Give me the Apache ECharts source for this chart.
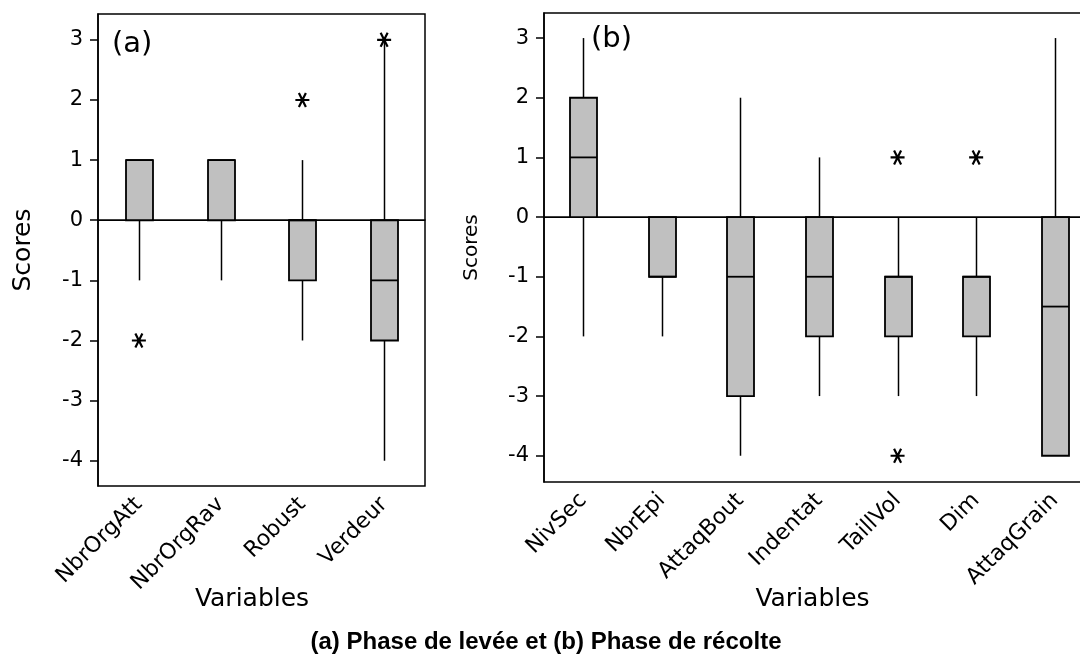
<!DOCTYPE html>
<html>
<head>
<meta charset="utf-8">
<script src="https://cdn.jsdelivr.net/npm/echarts@6/dist/echarts.min.js"></script>
<style>
  html, body { margin: 0; padding: 0; background: #fff; overflow: hidden; }
  #main { width: 1100px; height: 655px; }
</style>
</head>
<body>
<div id="main"></div>
<script>
// (a) Phase de levée
var catsA = ['NbrOrgAtt', 'NbrOrgRav', 'Robust', 'Verdeur']
var lowA = [-1, -1, -2, -4]
var q1A = [0, 0, -1, -2]
var medA = [1, 1, 0, -1]
var q3A = [1, 1, 0, 0]
var highA = [1, 1, 1, 3]
var outA = [[0, -2], [2, 2], [3, 3]]

// (b) Phase de récolte
var catsB = ['NivSec', 'NbrEpi', 'AttaqBout', 'Indentat', 'TaillVol', 'Dim', 'AttaqGrain']
var lowB = [-2, -2, -4, -3, -3, -3, -4]
var q1B = [0, -1, -3, -2, -2, -2, -4]
var medB = [1, -1, -1, -1, -1, -1, -1.5]
var q3B = [2, 0, 0, 0, -1, -1, 0]
var highB = [3, 0, 2, 1, 0, 0, 3]
var outB = [[4, 1], [4, -4], [5, 1]]

var yTicks = [-4, -3, -2, -1, 0, 1, 2, 3]

var FONT = 'DejaVu Sans'
var STAR = 'path://M0,10L20,10M5,1.34L15,18.66M5,18.66L15,1.34'
var TITLE = '(a) Phase de levée et (b) Phase de récolte'
var TITLE_FONT = 'bold 23px "Liberation Sans", Arial, sans-serif'

function rows (low, q1, med, q3, high) {
  return low.map(function (v, i) { return [i, v, q1[i], med[i], q3[i], high[i]] })
}

function renderBox (params, api) {
  var x = api.value(0)
  var pLow = api.coord([x, api.value(1)])
  var pQ1 = api.coord([x, api.value(2)])
  var pMed = api.coord([x, api.value(3)])
  var pQ3 = api.coord([x, api.value(4)])
  var pHigh = api.coord([x, api.value(5)])
  var cx = Math.round(pQ1[0]) + 0.5
  var w = 27
  var line = { stroke: '#000', lineWidth: 1.5 }
  var children = []
  if (pLow[1] > pQ1[1] + 0.5) {
    children.push({ type: 'line', shape: { x1: cx, y1: pQ1[1], x2: cx, y2: pLow[1] }, style: line })
  }
  if (pHigh[1] < pQ3[1] - 0.5) {
    children.push({ type: 'line', shape: { x1: cx, y1: pQ3[1], x2: cx, y2: pHigh[1] }, style: line })
  }
  children.push({
    type: 'rect',
    shape: { x: cx - w / 2, y: pQ3[1], width: w, height: pQ1[1] - pQ3[1] },
    style: { fill: '#c0c0c0', stroke: '#000', lineWidth: 1.8 }
  })
  children.push({
    type: 'line',
    shape: { x1: cx - w / 2, y1: pMed[1], x2: cx + w / 2, y2: pMed[1] },
    style: { stroke: '#000', lineWidth: 1.8 }
  })
  return { type: 'group', children: children }
}

function xAxisFor (idx, cats, pad, gap) {
  return {
    type: 'category',
    gridIndex: idx,
    data: cats,
    boundaryGap: true,
    axisLine: { lineStyle: { color: '#000', width: 1.5 } },
    axisTick: { alignWithLabel: true, length: 8, lineStyle: { color: '#000', width: 1.5 } },
    axisLabel: { rotate: 45, margin: 15, color: '#000', fontFamily: FONT, fontSize: 22, interval: 0 },
    name: 'Variables',
    nameLocation: 'middle',
    nameGap: gap,
    nameMoveOverlap: false,
    nameTextStyle: { color: '#000', fontFamily: FONT, fontSize: 25, padding: pad }
  }
}

function yAxisFor (idx, min, max, nameSize, gap) {
  return {
    type: 'value',
    gridIndex: idx,
    min: min,
    max: max,
    splitLine: { show: false },
    axisLine: { show: true, lineStyle: { color: '#000', width: 1.5 } },
    axisTick: { show: true, length: 8, customValues: yTicks, lineStyle: { color: '#000', width: 1.5 } },
    axisLabel: { margin: 15, customValues: yTicks, color: '#000', fontFamily: FONT, fontSize: 21 },
    name: 'Scores',
    nameLocation: 'middle',
    nameRotate: 90,
    nameGap: gap,
    nameMoveOverlap: false,
    nameTextStyle: { color: '#000', fontFamily: FONT, fontSize: nameSize }
  }
}

function zeroLine () {
  return {
    silent: true,
    symbol: 'none',
    label: { show: false },
    lineStyle: { color: '#000', width: 1, type: 'solid' },
    data: [{ yAxis: 0 }]
  }
}

function outliers (xi, yi, data) {
  return {
    type: 'scatter',
    xAxisIndex: xi,
    yAxisIndex: yi,
    symbol: STAR,
    symbolSize: 14,
    itemStyle: { color: 'rgba(0,0,0,0)', borderColor: '#000', borderWidth: 2.2, opacity: 1 },
    data: data,
    markLine: zeroLine(),
    z: 3
  }
}

// fit the caption to the width it has in the figure
var ctx = document.createElement('canvas').getContext('2d')
ctx.font = TITLE_FONT
var titleScale = 471 / ctx.measureText(TITLE).width

var chart = echarts.init(document.getElementById('main'), null, { renderer: 'canvas' })

var option = {
  animation: false,
  backgroundColor: '#fff',
  grid: [
    { left: 98, top: 14, width: 327, height: 472, show: true, borderColor: '#000', borderWidth: 1.5, containLabel: false },
    { left: 544, top: 13, width: 550, height: 469, show: true, borderColor: '#000', borderWidth: 1.5, containLabel: false }
  ],
  xAxis: [xAxisFor(0, catsA, [0, 19, 0, 0], 101), xAxisFor(1, catsB, [0, 13, 0, 0], 105)],
  yAxis: [yAxisFor(0, -4.42, 3.43, 25, 62), yAxisFor(1, -4.44, 3.42, 20, 62)],
  series: [
    { type: 'custom', xAxisIndex: 0, yAxisIndex: 0, renderItem: renderBox, data: rows(lowA, q1A, medA, q3A, highA), z: 2 },
    outliers(0, 0, outA),
    { type: 'custom', xAxisIndex: 1, yAxisIndex: 1, renderItem: renderBox, data: rows(lowB, q1B, medB, q3B, highB), z: 2 },
    outliers(1, 1, outB)
  ],
  graphic: [
    { type: 'text', left: 112, top: 30, style: { text: '(a)', font: '29px "DejaVu Sans"', fill: '#000' } },
    { type: 'text', left: 591, top: 25, style: { text: '(b)', font: '29px "DejaVu Sans"', fill: '#000' } },
    {
      type: 'text',
      x: 546,
      y: 643,
      scaleX: titleScale,
      style: { text: TITLE, font: TITLE_FONT, fill: '#000', align: 'center', verticalAlign: 'middle' }
    }
  ]
}

chart.setOption(option)
</script>
</body>
</html>
